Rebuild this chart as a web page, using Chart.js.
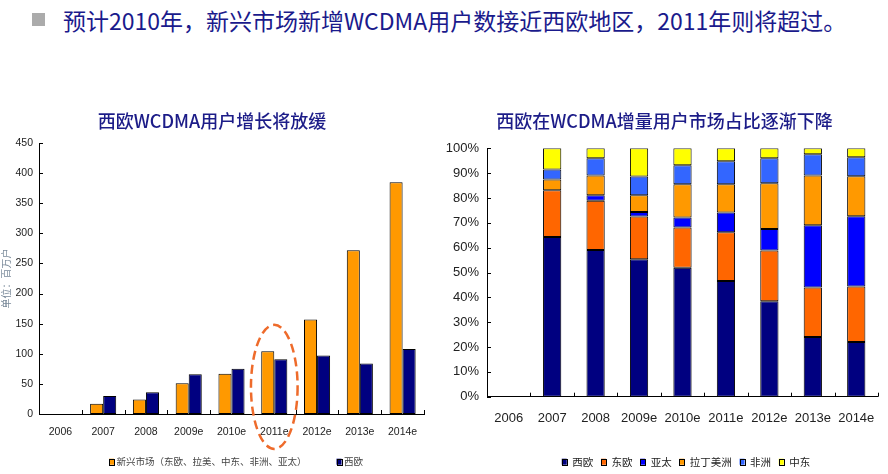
<!DOCTYPE html>
<html><head><meta charset="utf-8">
<script src="https://cdn.jsdelivr.net/npm/chart.js@4/dist/chart.umd.min.js"></script>
<style>
html,body{margin:0;padding:0;background:#fff;width:888px;height:474px;overflow:hidden;position:relative}
#hdr{position:absolute;left:63px;top:4px;font:23px "Noto Sans CJK SC",sans-serif;color:#1a1a8c;white-space:nowrap;line-height:32px}
#sq{position:absolute;left:32px;top:13px;width:13px;height:13px;background:#ababab}
#c1w{position:absolute;left:0;top:100px;width:440px;height:380px}
#c2w{position:absolute;left:440px;top:100px;width:448px;height:380px}
canvas{display:block}
</style></head><body>
<div id="sq"></div><div id="hdr">预计2010年，新兴市场新增WCDMA用户数接近西欧地区，2011年则将超过。</div>
<div id="c1w"><canvas id="c1" width="440" height="380"></canvas></div>
<div id="c2w"><canvas id="c2" width="448" height="380"></canvas></div>
<script>
// ---- data ----
const years = ['2006','2007','2008','2009e','2010e','2011e','2012e','2013e','2014e'];
// left chart: WCDMA subscribers (millions)
const emergingSubs = [null, 17, 24, 51, 67, 104, 157, 272, 385];
const westEuropeSubs = [null, 30, 36, 66, 75, 91, 97, 84, 108];
// right chart: share of incremental WCDMA users (%)
const shareWestEurope = [null, 64.3, 59.1, 55.3, 51.9, 46.6, 38.4, 24.0, 22.0];
const shareEastEurope = [null, 18.8, 19.8, 17.2, 16.2, 19.6, 20.5, 20.0, 22.4];
const shareAsiaPac    = [null, 0.0, 2.2, 1.9, 4.0, 8.0, 8.6, 25.0, 28.2];
const shareLatAm      = [null, 4.3, 7.9, 6.7, 13.4, 11.3, 18.4, 20.1, 16.1];
const shareAfrica     = [null, 4.1, 7.0, 7.5, 7.7, 9.3, 10.1, 8.5, 7.7];
const shareMidEast    = [null, 8.5, 4.0, 11.4, 6.8, 5.2, 4.0, 2.4, 3.6];
const leftTicksY = [0, 50, 100, 150, 200, 250, 300, 350, 400, 450];
const rightTicksY = [0, 10, 20, 30, 40, 50, 60, 70, 80, 90, 100];
// annotation: highlight 2011e
const highlightYear = '2011e';

const CJK = '"Noto Sans CJK SC", sans-serif';
const NUM = '"Liberation Sans", Arial, sans-serif';
const TITLE_COLOR = '#1c1c88';

// ---- plugins ----
const innerTicks = {
  id: 'innerTicks',
  afterDatasetsDraw(chart, args, o) {
    const {ctx, chartArea} = chart;
    const x = chart.scales.x, y = chart.scales.y;
    ctx.save();
    ctx.strokeStyle = '#000'; ctx.lineWidth = 1;
    const half = (x.getPixelForValue(1) - x.getPixelForValue(0)) / 2;
    for (let i = 0; i < x.ticks.length; i++) {
      const px = Math.round(x.getPixelForValue(i) + half) + 0.5;
      ctx.beginPath(); ctx.moveTo(px, chartArea.bottom); ctx.lineTo(px, chartArea.bottom - o.len); ctx.stroke();
    }
    y.ticks.forEach(t => {
      const py = Math.round(y.getPixelForValue(t.value)) + 0.5;
      ctx.beginPath(); ctx.moveTo(chartArea.left, py); ctx.lineTo(chartArea.left + o.len, py); ctx.stroke();
    });
    ctx.restore();
  }
};
const boxLegend = {
  id: 'boxLegend',
  afterDraw(chart, args, o) {
    const ctx = chart.ctx;
    ctx.save();
    ctx.font = o.font;
    ctx.textBaseline = 'middle';
    const items = chart.data.datasets.map(d => ({text: d.label, color: d.backgroundColor}));
    let total = 0;
    items.forEach((it, i) => {
      it.w = ctx.measureText(it.text).width;
      total += o.box + o.gap1 + it.w + (i < items.length - 1 ? o.gap2 : 0);
    });
    let x = o.cx - total / 2;
    items.forEach(it => {
      ctx.fillStyle = it.color;
      ctx.fillRect(x, o.cy - o.boxH / 2, o.box, o.boxH);
      ctx.strokeStyle = '#000'; ctx.lineWidth = 1;
      ctx.strokeRect(Math.round(x) + 0.5, Math.round(o.cy - o.boxH / 2) + 0.5, o.box, o.boxH);
      x += o.box + o.gap1;
      ctx.fillStyle = o.color;
      ctx.fillText(it.text, x, o.cy);
      x += it.w + o.gap2;
    });
    ctx.restore();
  }
};
const ellipseNote = {
  id: 'ellipseNote',
  afterDraw(chart, args, o) {
    if (!o || !o.category) return;
    const ctx = chart.ctx, x = chart.scales.x, y = chart.scales.y;
    const cx = x.getPixelForValue(years.indexOf(o.category));
    const top = y.getPixelForValue(o.top), bot = y.getPixelForValue(o.bottom);
    const rx = (x.getPixelForValue(1) - x.getPixelForValue(0)) * o.widthFrac / 2;
    ctx.save();
    ctx.strokeStyle = o.color; ctx.lineWidth = o.lineWidth;
    ctx.setLineDash(o.dash);
    ctx.beginPath();
    ctx.ellipse(cx, (top + bot) / 2, rx, (bot - top) / 2, 0, 0, Math.PI * 2);
    ctx.stroke();
    ctx.restore();
  }
};
Chart.register(innerTicks, boxLegend, ellipseNote);

// ---- left chart ----
new Chart(document.getElementById('c1'), {
  type: 'bar',
  data: {
    labels: years,
    datasets: [
      {label: '新兴市场（东欧、拉美、中东、非洲、亚太）', data: emergingSubs, backgroundColor: '#FF9900', borderColor: '#000', borderWidth: 1, borderSkipped: false},
      {label: '西欧', data: westEuropeSubs, backgroundColor: '#000080', borderColor: '#000', borderWidth: 1, borderSkipped: false}
    ]
  },
  options: {
    responsive: false, animation: false, devicePixelRatio: 1,
    categoryPercentage: 0.61, barPercentage: 1,
    layout: {padding: {left: 0, right: 16, top: 0, bottom: 36}},
    plugins: {
      legend: {display: false}, tooltip: {enabled: false},
      title: {display: true, text: '西欧WCDMA用户增长将放缓', color: TITLE_COLOR,
        font: {family: CJK, size: 18, weight: '500'}, padding: {top: 10, bottom: 11.4}},
      boxLegend: {cx: 236, cy: 361.7, font: '9.5px ' + CJK, color: '#444', box: 5, boxH: 6, gap1: 2.5, gap2: 30},
      ellipseNote: {category: highlightYear, top: 148, bottom: -58, widthFrac: 1.09, color: '#EE6B2B', lineWidth: 2.5, dash: [9, 5]},
      innerTicks: {len: 4}
    },
    scales: {
      x: {
        grid: {display: false, drawTicks: false},
        border: {display: true, color: '#000', width: 1},
        ticks: {color: '#222', font: {family: NUM, size: 10.5}, padding: 11.5, maxRotation: 0, autoSkip: false},
        afterFit(s) { s.height = 30; }
      },
      y: {
        min: 0, max: 450,
        afterBuildTicks(s) { s.ticks = leftTicksY.map(v => ({value: v})); },
        grid: {display: false, drawTicks: false},
        border: {display: true, color: '#000', width: 1},
        ticks: {color: '#222', font: {family: NUM, size: 10.5}, padding: 6},
        title: {display: true, text: '单位：百万户', color: '#7a8a9a', font: {family: CJK, size: 10}, padding: 0},
        afterFit(s) { s.width = 39; }
      }
    }
  }
});

// ---- right chart ----
const segBorder = {borderColor: '#000', borderWidth: 1, borderSkipped: false};
new Chart(document.getElementById('c2'), {
  type: 'bar',
  data: {
    labels: years,
    datasets: [
      Object.assign({label: '西欧', data: shareWestEurope, backgroundColor: '#000080'}, segBorder),
      Object.assign({label: '东欧', data: shareEastEurope, backgroundColor: '#FF6600'}, segBorder),
      Object.assign({label: '亚太', data: shareAsiaPac, backgroundColor: '#0000FF'}, segBorder),
      Object.assign({label: '拉丁美洲', data: shareLatAm, backgroundColor: '#FF9900'}, segBorder),
      Object.assign({label: '非洲', data: shareAfrica, backgroundColor: '#3366FF'}, segBorder),
      Object.assign({label: '中东', data: shareMidEast, backgroundColor: '#FFFF00'}, segBorder)
    ]
  },
  options: {
    responsive: false, animation: false, devicePixelRatio: 1,
    categoryPercentage: 1, barPercentage: 0.42,
    layout: {padding: {left: 4, right: 3, top: 0, bottom: 43.3}},
    plugins: {
      legend: {display: false}, tooltip: {enabled: false},
      title: {display: true, text: '西欧在WCDMA增量用户市场占比逐渐下降', color: TITLE_COLOR,
        font: {family: CJK, size: 18, weight: '500'}, padding: {top: 10, bottom: 16.7}},
      boxLegend: {cx: 246, cy: 361.7, font: '10.5px ' + CJK, color: '#222', box: 5, boxH: 6, gap1: 5.5, gap2: 7.7},
      innerTicks: {len: 4}
    },
    scales: {
      x: {
        stacked: true,
        grid: {display: false, drawTicks: false},
        border: {display: true, color: '#000', width: 1},
        ticks: {color: '#222', font: {family: NUM, size: 13}, padding: 13.5, maxRotation: 0, autoSkip: false},
        afterFit(s) { s.height = 40; }
      },
      y: {
        stacked: true, min: 0, max: 100,
        afterBuildTicks(s) { s.ticks = rightTicksY.map(v => ({value: v})); },
        grid: {display: false, drawTicks: false},
        border: {display: true, color: '#000', width: 1},
        ticks: {color: '#222', font: {family: NUM, size: 13}, padding: 8, callback: v => v + '%'},
        afterFit(s) { s.width = 43; }
      }
    }
  }
});
</script>
</body></html>
